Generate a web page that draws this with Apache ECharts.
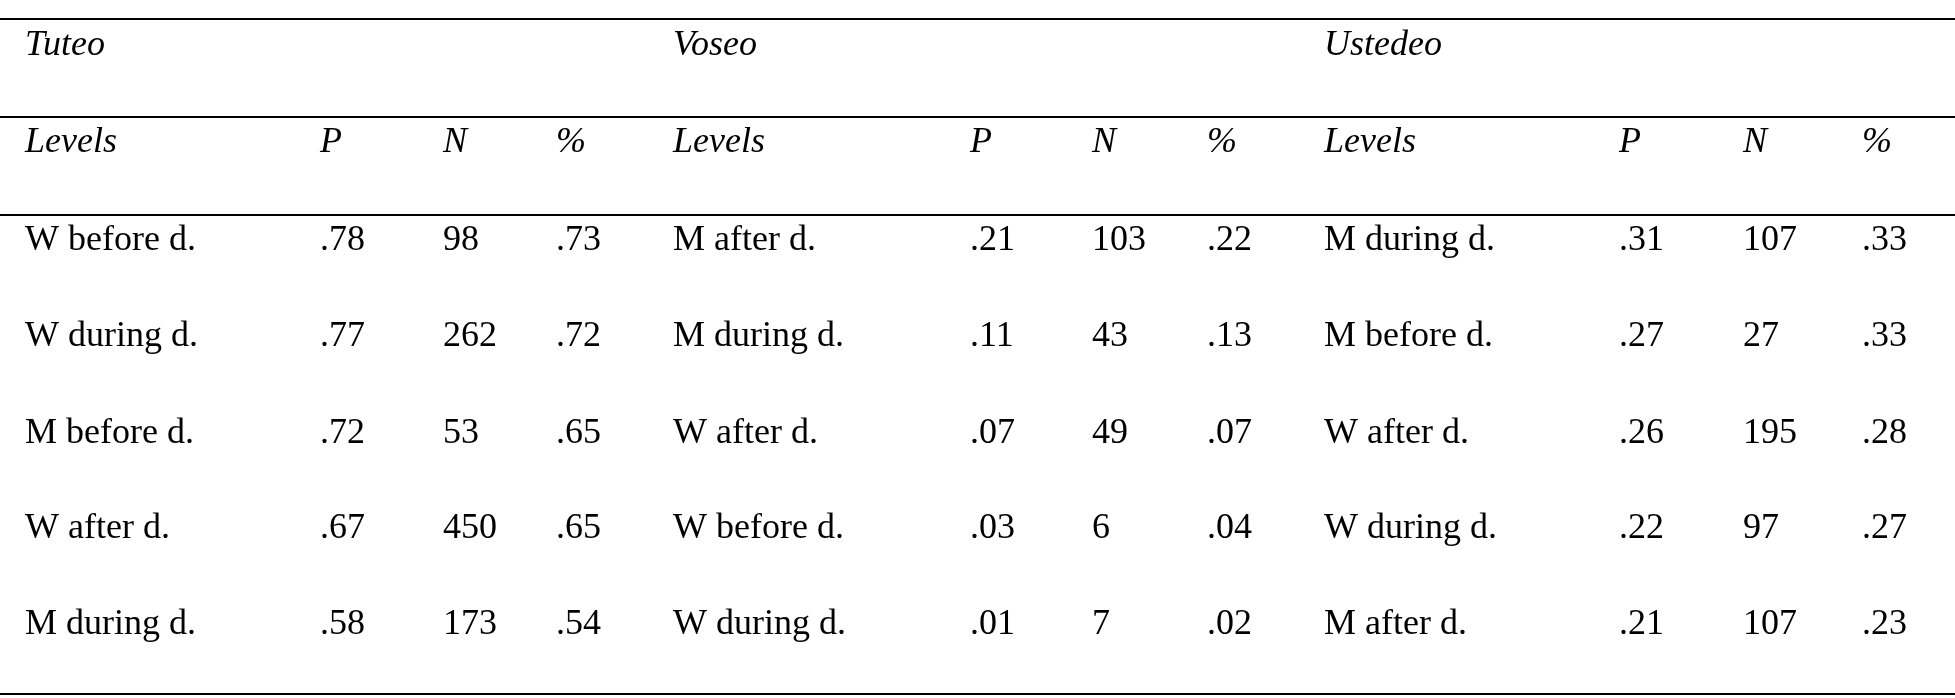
<!DOCTYPE html>
<html>
<head>
<meta charset="utf-8">
<script src="https://cdn.jsdelivr.net/npm/echarts@6/dist/echarts.min.js"></script>
<style>html,body{margin:0;padding:0;background:#fff}#main{width:1955px;height:698px}</style>
</head>
<body>
<div id="main"></div>
<script>
var groups = ["Tuteo", "Voseo", "Ustedeo"];
var subHeads = ["Levels", "P", "N", "%"];
var tuteoLevels = ["W before d.", "W during d.", "M before d.", "W after d.", "M during d."];
var tuteoP = [".78", ".77", ".72", ".67", ".58"];
var tuteoN = [98, 262, 53, 450, 173];
var tuteoPct = [".73", ".72", ".65", ".65", ".54"];
var voseoLevels = ["M after d.", "M during d.", "W after d.", "W before d.", "W during d."];
var voseoP = [".21", ".11", ".07", ".03", ".01"];
var voseoN = [103, 43, 49, 6, 7];
var voseoPct = [".22", ".13", ".07", ".04", ".02"];
var ustedeoLevels = ["M during d.", "M before d.", "W after d.", "W during d.", "M after d."];
var ustedeoP = [".31", ".27", ".26", ".22", ".21"];
var ustedeoN = [107, 27, 195, 97, 107];
var ustedeoPct = [".33", ".33", ".28", ".27", ".23"];

var colX = [25, 320, 443, 556, 673, 970, 1092, 1207, 1324, 1619, 1743, 1862];
var rowY = [241, 337, 434, 529, 625];
var font = '"Liberation Serif", "DejaVu Serif", serif';
var fs = 36;

var els = [];
function txt(x, y, s, italic) {
  els.push({
    type: "text", x: x, y: y,
    style: { text: String(s), font: (italic ? "italic " : "") + fs + "px " + font, fill: "#000", textVerticalAlign: "middle" }
  });
}
function hline(y) {
  els.push({ type: "line", shape: { x1: 0, y1: y, x2: 1955, y2: y }, style: { stroke: "#000", lineWidth: 2 } });
}
hline(19); hline(117); hline(215); hline(694);
groups.forEach(function (g, i) { txt(colX[i * 4], 46, g, true); });
for (var k = 0; k < 3; k++) subHeads.forEach(function (h, j) { txt(colX[k * 4 + j], 143, h, true); });
var cols = [tuteoLevels, tuteoP, tuteoN, tuteoPct, voseoLevels, voseoP, voseoN, voseoPct,
            ustedeoLevels, ustedeoP, ustedeoN, ustedeoPct];
cols.forEach(function (c, ci) {
  c.forEach(function (v, ri) { txt(colX[ci], rowY[ri], v, false); });
});

var chart = echarts.init(document.getElementById("main"));
chart.setOption({ animation: false, graphic: { elements: els } });
</script>
</body>
</html>
